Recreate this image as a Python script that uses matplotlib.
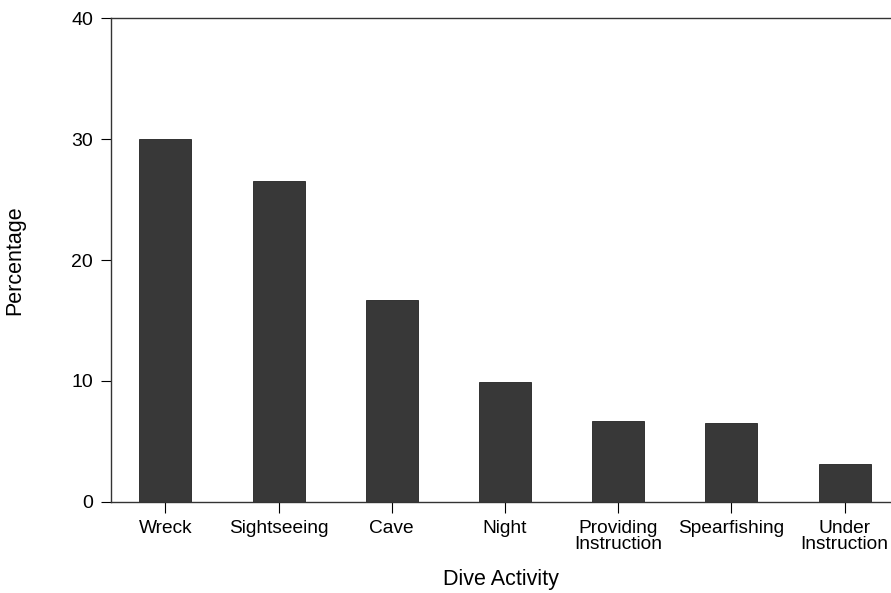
import numpy as np
import matplotlib.pyplot as plt

plt.rcParams['font.family'] = ['Liberation Sans', 'DejaVu Sans']

activities = ['Wreck', 'Sightseeing', 'Cave', 'Night', 'Providing\nInstruction',
              'Spearfishing', 'Under\nInstruction']
percent = [30.0, 26.5, 16.7, 9.9, 6.7, 6.5, 3.1]

fig = plt.figure(figsize=(8.91, 5.93), dpi=100)
ax = fig.add_axes([0.1246, 0.1535, 0.8754, 0.8161])

x = np.arange(len(activities))
ax.bar(x, percent, width=0.46, color='#383838', edgecolor='#222222', linewidth=0.6)

ax.set_xlim(-0.48, 6.41)
ax.set_ylim(0, 40)
ax.set_yticks([0, 10, 20, 30, 40])
ax.set_xticks(x)
ax.set_xticklabels(activities, fontsize=13.8, linespacing=0.9)
ax.tick_params(axis='y', labelsize=14, direction='out', length=7, width=0.8, pad=6)
ax.tick_params(axis='x', direction='out', length=8, width=0.8, pad=5)

ax.spines['right'].set_visible(False)
for s in ['left', 'top', 'bottom']:
    ax.spines[s].set_linewidth(1.0)
    ax.spines[s].set_color('#333333')

ax.set_xlabel('Dive Activity', fontsize=15.5, labelpad=12)
ax.set_ylabel('Percentage', fontsize=15.5, labelpad=33)

fig.savefig('out.png', dpi=100)
